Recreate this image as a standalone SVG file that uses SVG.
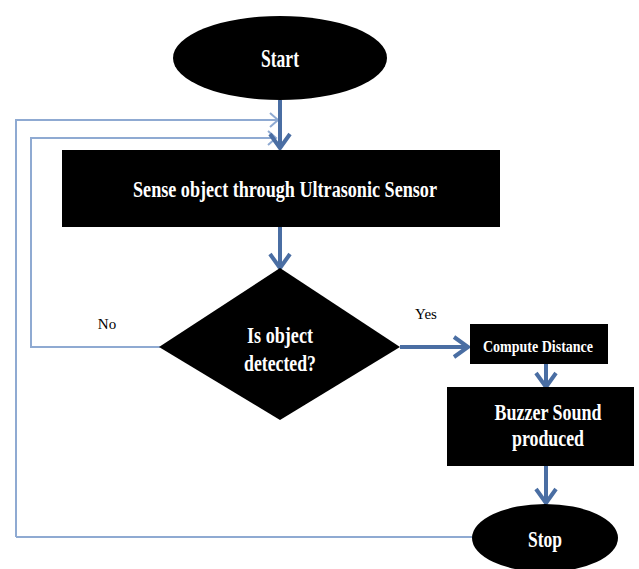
<svg xmlns="http://www.w3.org/2000/svg" width="639" height="569" viewBox="0 0 639 569">
<defs>
<style>
.node{fill:#000}
.t{fill:#fff;font-family:"Liberation Serif","Times New Roman",serif;font-weight:bold;text-anchor:middle}
.lbl{fill:#000;font-family:"Liberation Serif","Times New Roman",serif;font-size:15px;text-anchor:middle}
.main{fill:none;stroke:#4a6ea3;stroke-width:4}
.thin{fill:none;stroke:#8faad2;stroke-width:2}
</style>
<marker id="ah" markerUnits="userSpaceOnUse" viewBox="-16 -12 20 24" refX="0" refY="0" markerWidth="20" markerHeight="24" orient="auto">
<path d="M-14,-10 L0,0 L-14,10" fill="none" stroke="#4a6ea3" stroke-width="4"/>
</marker>
<marker id="at" markerUnits="userSpaceOnUse" viewBox="-10 -9 12 18" refX="0" refY="0" markerWidth="12" markerHeight="18" orient="auto">
<path d="M-8,-7 L0,0 L-8,7" fill="none" stroke="#8faad2" stroke-width="2"/>
</marker>
</defs>
<rect width="639" height="569" fill="#fff"/>
<g id="connectors">
<path class="thin" d="M16,537 L16,120 L278,120" marker-end="url(#at)"/>
<path class="thin" d="M472,537 L16,537"/>
<path class="thin" d="M160,347 L31,347 L31,138 L276,138" marker-end="url(#at)"/>
<path class="main" d="M280,100 L280,148" marker-end="url(#ah)"/>
<path class="main" d="M280,227 L280,268" marker-end="url(#ah)"/>
<path class="main" d="M400,347 L468,347" marker-end="url(#ah)"/>
<path class="main" d="M546,364 L546,387" marker-end="url(#ah)"/>
<path class="main" d="M546,466 L546,503" marker-end="url(#ah)"/>
<text class="lbl" x="107" y="329">No</text>
<text class="lbl" x="426" y="319">Yes</text>
</g>
<g id="start">
<ellipse class="node" cx="280" cy="58" rx="107" ry="42"/>
<text class="t" x="280" y="67" font-size="25" textLength="38" lengthAdjust="spacingAndGlyphs">Start</text>
</g>
<g id="sense">
<rect class="node" x="62" y="150" width="438" height="77"/>
<text class="t" x="285" y="197" font-size="24" textLength="304" lengthAdjust="spacingAndGlyphs">Sense object through Ultrasonic Sensor</text>
</g>
<g id="decision">
<polygon class="node" points="280,268 400,347 280,420 159,347"/>
<text class="t" x="280" y="343" font-size="24" textLength="66" lengthAdjust="spacingAndGlyphs">Is object</text>
<text class="t" x="280" y="371" font-size="24" textLength="72" lengthAdjust="spacingAndGlyphs">detected?</text>
</g>
<g id="compute">
<rect class="node" x="470" y="324" width="138" height="40"/>
<text class="t" x="538" y="352" font-size="17" textLength="110" lengthAdjust="spacingAndGlyphs">Compute Distance</text>
</g>
<g id="buzzer">
<rect class="node" x="447" y="387" width="187" height="79"/>
<text class="t" x="548" y="420" font-size="24" textLength="107" lengthAdjust="spacingAndGlyphs">Buzzer Sound</text>
<text class="t" x="548" y="446" font-size="24" textLength="72" lengthAdjust="spacingAndGlyphs">produced</text>
</g>
<g id="stop">
<ellipse class="node" cx="545" cy="538" rx="73" ry="34"/>
<text class="t" x="545" y="547" font-size="24" textLength="34" lengthAdjust="spacingAndGlyphs">Stop</text>
</g>
</svg>
